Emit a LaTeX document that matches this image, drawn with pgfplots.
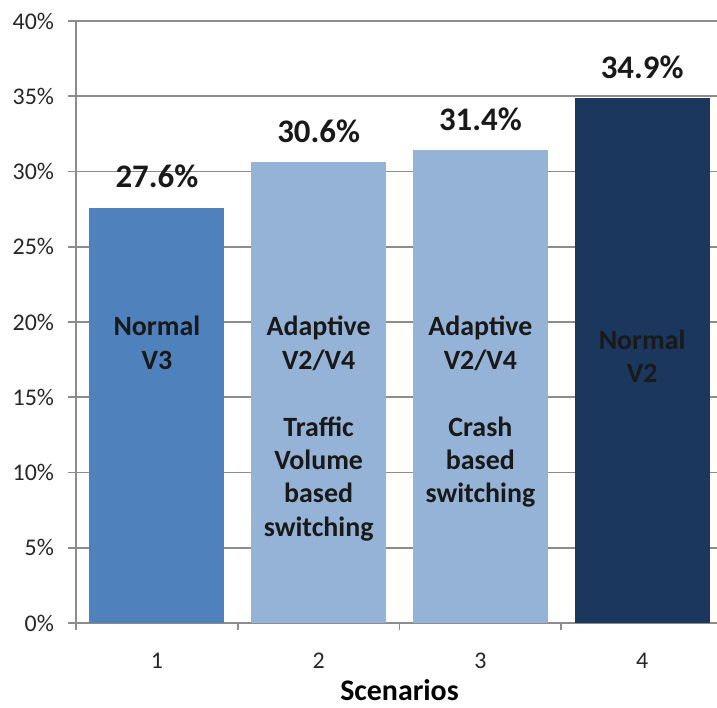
\documentclass[border=0pt]{standalone}
\usepackage{pgfplots}
\pgfplotsset{compat=1.18}
\usepackage{fontspec}
\setmainfont{Carlito}
\definecolor{bA}{HTML}{4F81BD}
\definecolor{bB}{HTML}{95B3D7}
\definecolor{bC}{HTML}{1B375E}
\definecolor{gridc}{HTML}{8C8C8C}
\begin{document}
\begin{tikzpicture}
\begin{axis}[name=ax, scale only axis, width=323.5bp, height=301bp,
  xmin=-0.5, xmax=3.5, ymin=0, ymax=40,
  axis x line*=bottom, axis y line*=left,
  axis line style={gridc, line width=0.9bp, -},
  ytick={0,5,...,40}, yticklabel={\pgfmathprintnumber{\tick}\%},
  ymajorgrids, grid style={gridc, line width=0.9bp},
  xtick={0,1,2,3}, xticklabels={1,2,3,4},
  minor xtick={-0.5,0.5,1.5,2.5},
  tick align=outside, major tick length=4bp, minor tick length=3.5bp,
  tick style={gridc, line width=0.8bp},
  x tick style={draw=none},
  minor x tick style={draw=gridc},
  /pgf/number format/assume math mode=true,
  ticklabel style={font=\fontsize{12}{14}\selectfont, text=black!85},
  xticklabel style={yshift=-7.5bp},
  yticklabel style={xshift=-3.5bp},
  xlabel={\textbf{Scenarios}},
  xlabel style={font=\fontsize{15}{18}\selectfont, yshift=1.5bp},
  bar width=0.835,
  nodes near coords={\pgfmathprintnumber[fixed,precision=1,fixed zerofill]{\pgfplotspointmeta}\%},
  every node near coord/.append style={font=\bfseries\fontsize{16.5}{19}\selectfont, text=black!90, anchor=south, inner sep=0pt, yshift=9.5bp},
  clip=false,
]
\addplot[ybar, bar shift=0pt, fill=bA, draw=none] coordinates {(0,27.6)};
\addplot[ybar, bar shift=0pt, fill=bB, draw=none] coordinates {(1,30.6)};
\addplot[ybar, bar shift=0pt, fill=bB, draw=none] coordinates {(2,31.4)};
\addplot[ybar, bar shift=0pt, fill=bC, draw=none] coordinates {(3,34.9)};
\begin{scope}[every node/.style={anchor=north, align=center, inner sep=0pt, text=black!90, font=\bfseries\fontsize{14}{16.75}\selectfont}]
\node at (axis cs:0,20.4) {Normal\\V3};
\node at (axis cs:1,20.4) {Adaptive\\V2/V4\\[16.75bp]Traffic\\Volume\\based\\switching};
\node at (axis cs:2,20.4) {Adaptive\\V2/V4\\[16.75bp]Crash\\based\\switching};
\node at (axis cs:3,19.5) {Normal\\V2};
\end{scope}
\end{axis}
\pgfresetboundingbox
\path[use as bounding box] ([shift={(-38bp,-42.5bp)}]ax.south west) rectangle ([shift={(-3bp,10.5bp)}]ax.north east);
\end{tikzpicture}
\end{document}
